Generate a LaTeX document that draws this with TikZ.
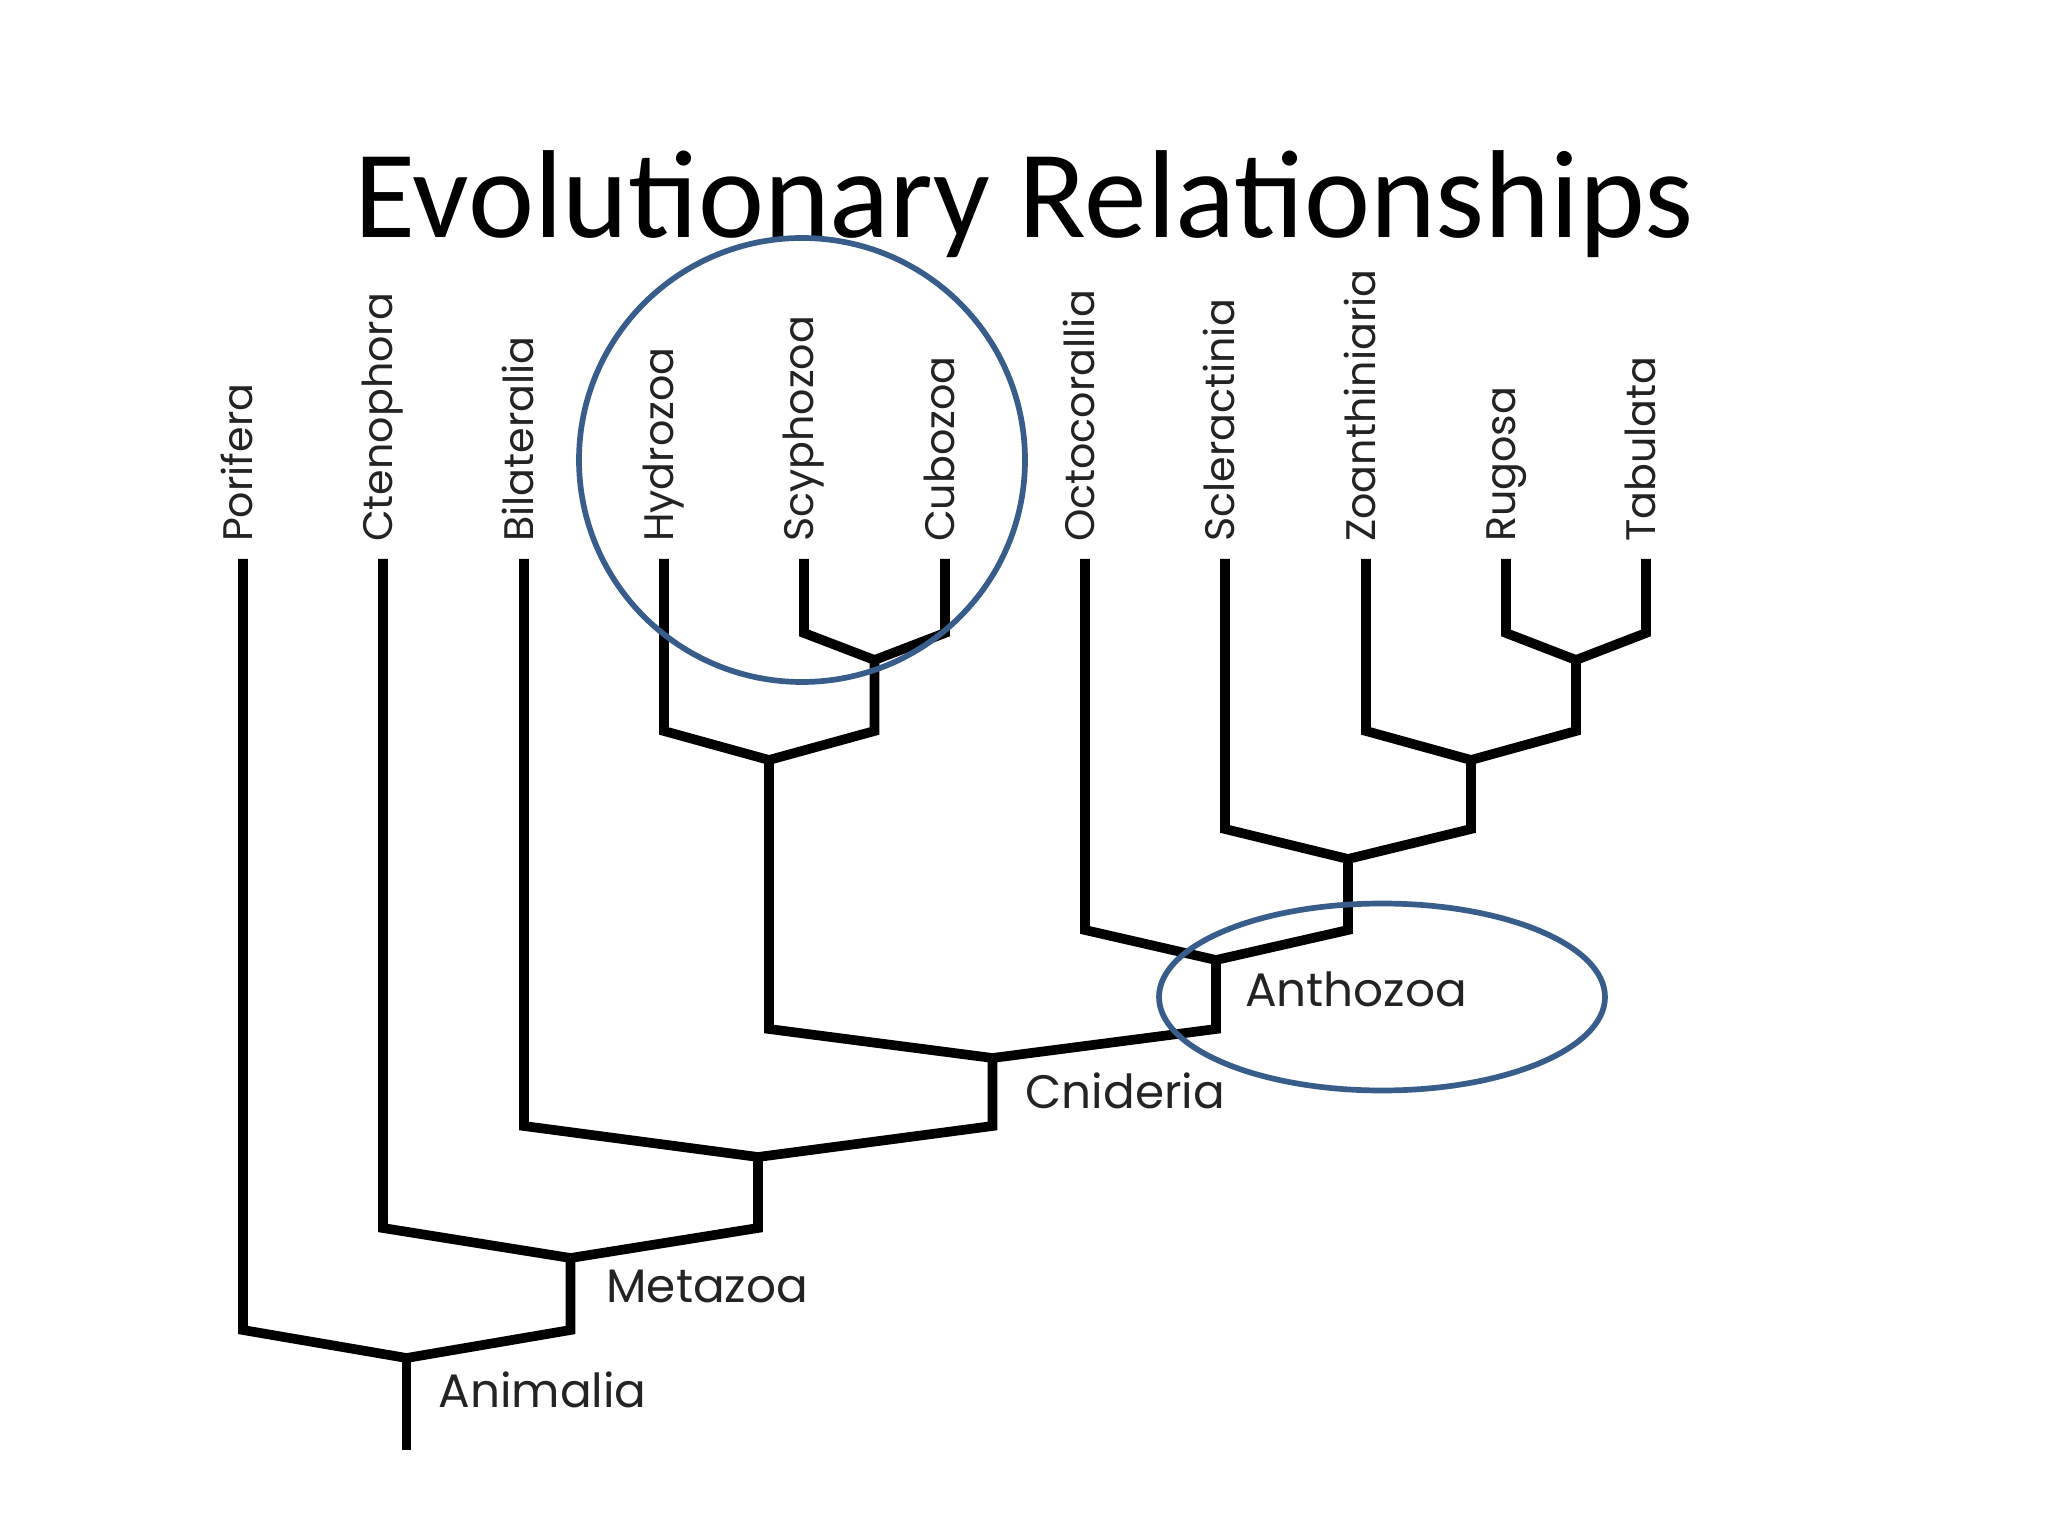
\documentclass[tikz,border=0pt]{standalone}
\usepackage{fontspec}
\setmainfont{Carlito}
\newfontfamily\cladefont{Poppins}
\usetikzlibrary{calc}
\definecolor{ovalblue}{RGB}{56,93,138}
\definecolor{namegray}{RGB}{35,35,35}
\tikzset{every picture/.style={line width=0.75pt}}
\tikzset{
  branch/.style={draw=black, line width=3.4pt, line join=miter},
  oval/.style={draw=ovalblue, line width=2pt},
  taxon/.style={font=\cladefont\fontsize{14.5}{17}\selectfont, text=namegray, inner sep=0pt, rotate=90, anchor=base west},
  clade/.style={font=\cladefont\fontsize{16.5}{19}\selectfont, text=namegray, inner sep=0pt, anchor=base west},
}
\begin{document}
\begin{tikzpicture}[x=0.3515625pt,y=0.3515625pt,yscale=-1,xscale=1]
\useasboundingbox[fill=white] (0,0) rectangle (2048,1536);

% Title
\node (title) at (1024,238) [anchor=base, font=\fontsize{44}{53}\selectfont] {Evolutionary Relationships};

% Leaf tops
\coordinate (tPor) at (243,559);
\coordinate (tCte) at (383,559);
\coordinate (tBil) at (524,559);
\coordinate (tHyd) at (664,559);
\coordinate (tScy) at (804,559);
\coordinate (tCub) at (945,559);
\coordinate (tOct) at (1085,559);
\coordinate (tScl) at (1225,559);
\coordinate (tZoa) at (1366,559);
\coordinate (tRug) at (1506,559);
\coordinate (tTab) at (1646,559);

% Leaf bottoms
\coordinate (bPor) at (243,1330);
\coordinate (bCte) at (383,1228);
\coordinate (bBil) at (524,1126);
\coordinate (bHyd) at (664,731);
\coordinate (bScy) at (804,633);
\coordinate (bCub) at (945,633);
\coordinate (bOct) at (1085,930);
\coordinate (bScl) at (1225,829);
\coordinate (bZoa) at (1366,731);
\coordinate (bRug) at (1506,633);
\coordinate (bTab) at (1646,633);

% Junctions and their stems
\coordinate (jSC) at (874.5,660);   \coordinate (sSC) at (874.5,731);
\coordinate (jHC) at (769,760);     \coordinate (sHC) at (769,1029);
\coordinate (jRT) at (1576,660);    \coordinate (sRT) at (1576,731);
\coordinate (jZR) at (1471,760);    \coordinate (sZR) at (1471,829);
\coordinate (jSZ) at (1348,859);    \coordinate (sSZ) at (1348,930);
\coordinate (jAnt) at (1216,960);   \coordinate (sAnt) at (1216,1029);
\coordinate (jCni) at (992.5,1058); \coordinate (sCni) at (992.5,1126);
\coordinate (jBil) at (758,1157);   \coordinate (sBil) at (758,1228);
\coordinate (jMet) at (570.5,1258); \coordinate (sMet) at (570.5,1330);
\coordinate (jAni) at (406.5,1358); \coordinate (root) at (406.5,1450);

%Straight Lines: leaves
\draw [branch] (tPor) -- (bPor) -- (jAni);
\draw [branch] (tCte) -- (bCte) -- (jMet);
\draw [branch] (tBil) -- (bBil) -- (jBil);
\draw [branch] (tHyd) -- (bHyd) -- (jHC);
\draw [branch] (tScy) -- (bScy) -- (jSC);
\draw [branch] (tCub) -- (bCub) -- (jSC);
\draw [branch] (tOct) -- (bOct) -- (jAnt);
\draw [branch] (tScl) -- (bScl) -- (jSZ);
\draw [branch] (tZoa) -- (bZoa) -- (jZR);
\draw [branch] (tRug) -- (bRug) -- (jRT);
\draw [branch] (tTab) -- (bTab) -- (jRT);

%Straight Lines: inner branches
\draw [branch] (jSC) -- (sSC) -- (jHC);
\draw [branch] (jHC) -- (sHC) -- (jCni);
\draw [branch] (jRT) -- (sRT) -- (jZR);
\draw [branch] (jZR) -- (sZR) -- (jSZ);
\draw [branch] (jSZ) -- (sSZ) -- (jAnt);
\draw [branch] (jAnt) -- (sAnt) -- (jCni);
\draw [branch] (jCni) -- (sCni) -- (jBil);
\draw [branch] (jBil) -- (sBil) -- (jMet);
\draw [branch] (jMet) -- (sMet) -- (jAni);
\draw [branch] (jAni) -- (root);

% Text Node: taxa
\node [taxon] (porifera) at ($(tPor)+(9,-16)$) {Porifera};
\node [taxon] (ctenophora) at ($(tCte)+(9,-16)$) {Ctenophora};
\node [taxon] (bilateralia) at ($(tBil)+(9,-16)$) {Bilateralia};
\node [taxon] (hydrozoa) at ($(tHyd)+(9,-16)$) {Hydrozoa};
\node [taxon] (scyphozoa) at ($(tScy)+(9,-16)$) {Scyphozoa};
\node [taxon] (cubozoa) at ($(tCub)+(9,-16)$) {Cubozoa};
\node [taxon] (octocorallia) at ($(tOct)+(9,-16)$) {Octocorallia};
\node [taxon] (scleractinia) at ($(tScl)+(9,-16)$) {Scleractinia};
\node [taxon] (zoanthiniaria) at ($(tZoa)+(9,-16)$) {Zoanthiniaria};
\node [taxon] (rugosa) at ($(tRug)+(9,-16)$) {Rugosa};
\node [taxon] (tabulata) at ($(tTab)+(9,-16)$) {Tabulata};

% Text Node: clades
\node [clade] (animalia) at ($(jAni)+(31,49)$) {Animalia};
\node [clade] (metazoa) at ($(jMet)+(35,44)$) {Metazoa};
\node [clade] (cnideria) at ($(jCni)+(32,50)$) {Cnideria};
\node [clade] (anthozoa) at ($(jAnt)+(28,46)$) {Anthozoa};

%Shape: Ellipse
\draw [oval] (802,460) ellipse [x radius=223, y radius=222];
%Shape: Ellipse
\draw [oval] (1382,997) ellipse [x radius=223, y radius=93.5];

\end{tikzpicture}
\end{document}
